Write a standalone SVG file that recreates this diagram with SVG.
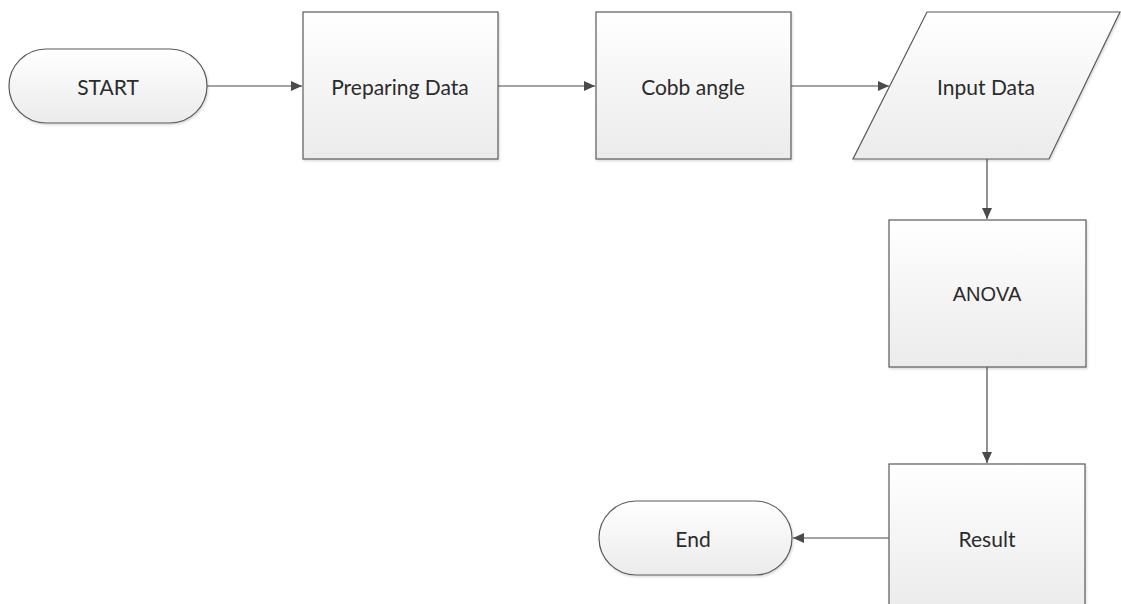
<svg xmlns="http://www.w3.org/2000/svg" width="1121" height="604" viewBox="0 0 1121 604">
  <style>
    .shape { fill: url(#boxFill); stroke: #5a5a5a; stroke-width: 1.2; filter: url(#soft); }
    .label { font-family: Lato, "Open Sans", "Liberation Sans", sans-serif; font-size: 21px; fill: #2b2b2b; text-anchor: middle; dominant-baseline: central; }
    .label.sans { font-family: "Liberation Sans", Arial, sans-serif; font-size: 20px; }
    .link { fill: none; stroke: #4a4a4a; stroke-width: 1.2; marker-end: url(#arrow); }
  </style>
  <defs>
    <linearGradient id="boxFill" x1="0" y1="0" x2="0" y2="1">
      <stop offset="0" stop-color="#ffffff"/>
      <stop offset="1" stop-color="#ebebeb"/>
    </linearGradient>
    <filter id="soft" x="-5%" y="-5%" width="110%" height="115%">
      <feDropShadow dx="1" dy="1.5" stdDeviation="1.2" flood-color="#000" flood-opacity="0.15"/>
    </filter>
    <marker id="arrow" markerWidth="12" markerHeight="12" refX="11" refY="6" orient="auto" markerUnits="userSpaceOnUse">
      <path d="M0,1 L11,6 L0,11 Z" fill="#4a4a4a"/>
    </marker>
  </defs>

  <rect width="1121" height="604" fill="#ffffff"/>

  <g id="connectors">
    <path class="link" d="M207,86 H302"/>
    <path class="link" d="M498,86 H595"/>
    <path class="link" d="M791,86 H889"/>
    <path class="link" d="M987,159 V219"/>
    <path class="link" d="M987,367 V463"/>
    <path class="link" d="M889,538 H793"/>
  </g>

  <g id="start">
    <rect class="shape" x="9" y="49" width="198" height="74" rx="37" ry="37"/>
    <text class="label" x="108" y="86">START</text>
  </g>

  <g id="preparing-data">
    <rect class="shape" x="303" y="12" width="195" height="147"/>
    <text class="label" x="400" y="86">Preparing Data</text>
  </g>

  <g id="cobb-angle">
    <rect class="shape" x="596" y="12" width="195" height="147"/>
    <text class="label" x="693" y="86">Cobb angle</text>
  </g>

  <g id="input-data">
    <polygon class="shape" points="927,12 1120,12 1049,159 853,159"/>
    <text class="label" x="986" y="86">Input Data</text>
  </g>

  <g id="anova">
    <rect class="shape" x="889" y="220" width="197" height="147"/>
    <text class="label sans" x="987" y="294">ANOVA</text>
  </g>

  <g id="result">
    <rect class="shape" x="889" y="464" width="196" height="147"/>
    <text class="label" x="987" y="538">Result</text>
  </g>

  <g id="end">
    <rect class="shape" x="599" y="501" width="193" height="74" rx="37" ry="37"/>
    <text class="label" x="693" y="538">End</text>
  </g>
</svg>
